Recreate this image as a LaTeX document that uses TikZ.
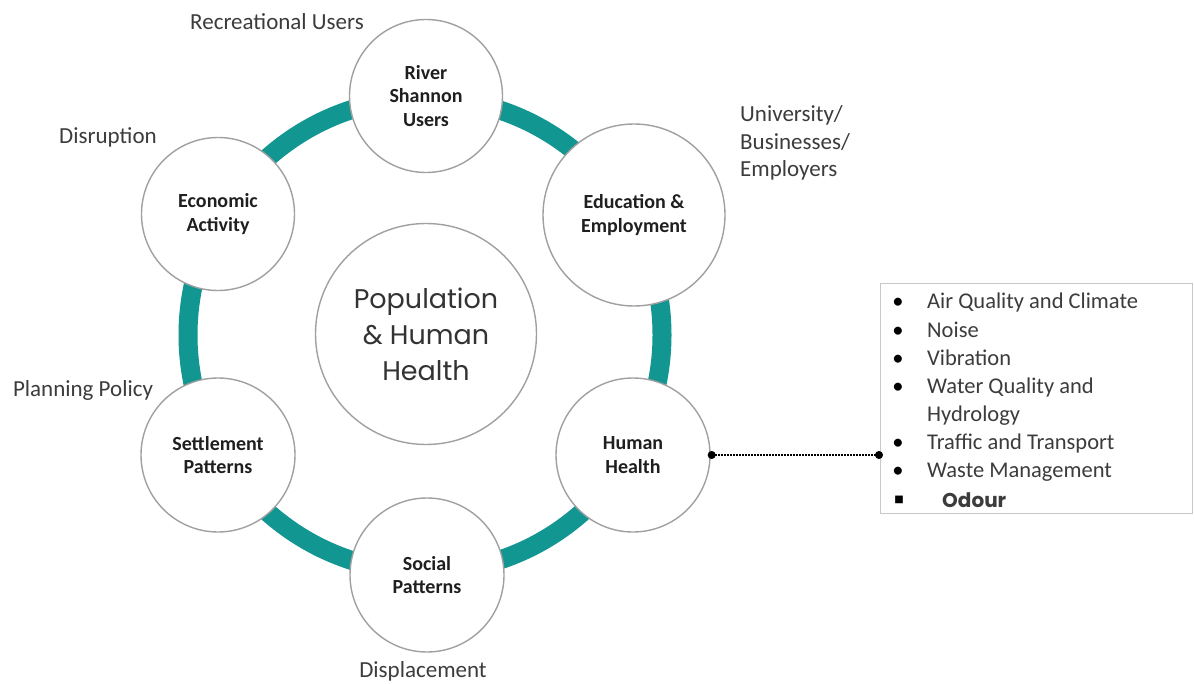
\documentclass[tikz,border=0pt]{standalone}
\usepackage{fontspec}
\setmainfont{Carlito}
\newfontfamily\geofont{Poppins}
\newfontfamily\symfont{DejaVu Sans}
\usetikzlibrary{arrows.meta}
\definecolor{ringteal}{RGB}{18,150,146}
\definecolor{rimgray}{RGB}{160,160,160}
\definecolor{notegray}{RGB}{60,60,60}
\definecolor{boxgray}{RGB}{200,200,200}
\tikzset{
  topic/.style={circle, draw=rimgray, line width=1.4pt, fill=white, inner sep=0pt,
    align=center, text=black!88, font=\fontsize{20}{23.5}\selectfont\bfseries},
  hub/.style={circle, draw=rimgray, line width=1.4pt, fill=white, inner sep=0pt,
    minimum size=221pt, align=center, text=black!80,
    font=\geofont\fontsize{27}{36}\selectfont},
  note/.style={text=notegray, font=\fontsize{23}{27.5}\selectfont, inner sep=0pt},
  item/.style={text=notegray, font=\fontsize{22.5}{27}\selectfont, inner sep=0pt, anchor=base west},
  bulletmark/.style={text=black, font=\fontsize{22.5}{27}\selectfont, inner sep=0pt, anchor=base},
  linkline/.style={line width=1.2pt, dash pattern=on 1.4pt off 1.6pt,
    {Circle[length=8pt,width=8pt]}-{Circle[length=8pt,width=8pt]}, shorten <=-3pt, shorten >=-3pt}
}
\begin{document}
\begin{tikzpicture}[x=1pt,y=-1pt]
\useasboundingbox (0,0) rectangle (1194,684);
\fill[white] (0,0) rectangle (1194,684);

% teal ring behind the topic circles
\coordinate (ringc) at (425,335);
\draw[ringteal, line width=19pt] (ringc) circle[radius=237];

% centre
\node[hub] (hub) at (426,334) {Population\\\& Human\\Health};

% topics around the ring
\node[topic, minimum size=153pt] (river) at (426,96) {River\\Shannon\\Users};
\node[topic, minimum size=182pt] (edu) at (634,215) {Education \&\\Employment};
\node[topic, minimum size=154pt] (health) at (633,455) {Human\\Health};
\node[topic, minimum size=154pt] (social) at (427,575) {Social\\Patterns};
\node[topic, minimum size=154pt] (settle) at (218,455) {Settlement\\Patterns};
\node[topic, minimum size=153pt] (econ) at (218,214) {Economic\\Activity};

% stakeholder notes
\node[note] (recre) at (277,22) {Recreational Users};
\node[note] (disrupt) at (108,137) {Disruption};
\node[note] (plan) at (83,390) {Planning Policy};
\node[note, anchor=west, align=left] (univ) at (740,143) {University/\\Businesses/\\Employers};
\node[note] (displ) at (423,671) {Displacement};

% list of related topics (baselines sit 7pt below each line's middle)
\node[draw=boxgray, line width=1pt, anchor=north west, minimum width=312pt,
      minimum height=230pt, inner sep=0pt] (list) at (880,283) {};
\node[bulletmark] (m1) at (898,309) {•};
\node[item] (t1) at (927,309) {Air Quality and Climate};
\node[bulletmark] (m2) at (898,338) {•};
\node[item] (t2) at (927,338) {Noise};
\node[bulletmark] (m3) at (898,366) {•};
\node[item] (t3) at (927,366) {Vibration};
\node[bulletmark] (m4) at (898,394) {•};
\node[item] (t4) at (927,394) {Water Quality and};
\node[item] (t4b) at (927,421) {Hydrology};
\node[bulletmark] (m5) at (898,449) {•};
\node[item] (t5) at (927,449) {Traffic and Transport};
\node[bulletmark] (m6) at (898,477) {•};
\node[item] (t6) at (927,477) {Waste Management};
\node[inner sep=0pt, font=\symfont\fontsize{10}{10}\selectfont] (m7) at (899,500) {■};
\node[item, font=\geofont\fontsize{20}{24}\selectfont\bfseries] (t7) at (942,507) {Odour};

% link from Human Health to the list
\draw[linkline] (health.east) -- (health.east -| list.west);
\end{tikzpicture}
\end{document}
